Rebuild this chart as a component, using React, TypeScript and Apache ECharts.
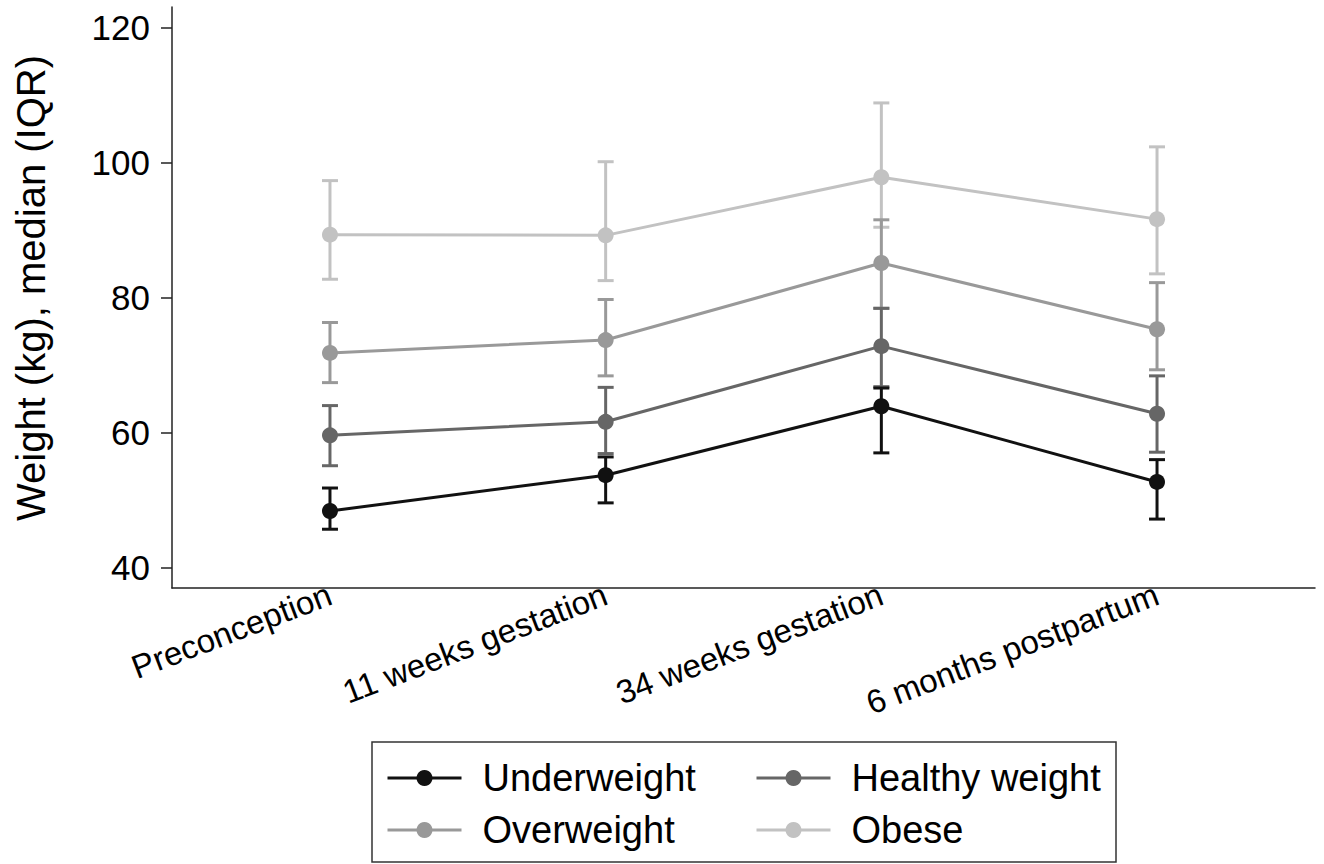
import React, { useEffect, useRef } from "react";
import * as echarts from "echarts";

const categories = ["Preconception", "11 weeks gestation", "34 weeks gestation", "6 months postpartum"];
const groupNames = ["Underweight", "Healthy weight", "Overweight", "Obese"];
const groupColors = ["#111111", "#666666", "#999999", "#c2c2c2"];

const underMedian = [48.4, 53.7, 63.9, 52.7];
const underQ1 = [45.7, 49.6, 57.0, 47.2];
const underQ3 = [51.8, 56.4, 66.6, 56.0];

const healthyMedian = [59.6, 61.6, 72.8, 62.8];
const healthyQ1 = [55.1, 56.9, 66.8, 57.1];
const healthyQ3 = [64.0, 66.7, 78.4, 68.4];

const overMedian = [71.8, 73.7, 85.1, 75.3];
const overQ1 = [67.4, 68.4, 78.4, 69.3];
const overQ3 = [76.3, 79.7, 91.5, 82.2];

const obeseMedian = [89.3, 89.2, 97.8, 91.6];
const obeseQ1 = [82.7, 82.5, 90.4, 83.5];
const obeseQ3 = [97.3, 100.1, 108.8, 102.3];

const yTicks = [40, 60, 80, 100, 120];

const FONT = "Liberation Sans, Arial, sans-serif";

export default function App() {
  const ref = useRef<HTMLDivElement>(null);
  useEffect(() => {
    if (!ref.current) return;
    const chart = echarts.init(ref.current, undefined, { renderer: "svg" });
    const medians = [underMedian, healthyMedian, overMedian, obeseMedian];
    const q1s = [underQ1, healthyQ1, overQ1, obeseQ1];
    const q3s = [underQ3, healthyQ3, overQ3, obeseQ3];

    const series: any[] = [];
    for (let g = groupNames.length - 1; g >= 0; g--) {
      const color = groupColors[g];
      series.push({
        type: "custom",
        name: groupNames[g] + " IQR",
        z: 2,
        silent: true,
        encode: { x: 0, y: [1, 2] },
        data: categories.map((_, i) => [i, q1s[g][i], q3s[g][i]]),
        renderItem: (params: any, api: any) => {
          const x = api.value(0);
          const lo = api.coord([x, api.value(1)]);
          const hi = api.coord([x, api.value(2)]);
          const w = 8;
          const style = { stroke: color, lineWidth: 3 };
          return {
            type: "group",
            children: [
              { type: "line", shape: { x1: lo[0], y1: lo[1], x2: hi[0], y2: hi[1] }, style },
              { type: "line", shape: { x1: lo[0] - w, y1: lo[1], x2: lo[0] + w, y2: lo[1] }, style },
              { type: "line", shape: { x1: hi[0] - w, y1: hi[1], x2: hi[0] + w, y2: hi[1] }, style },
            ],
          };
        },
      });
      series.push({
        type: "line",
        name: groupNames[g],
        z: 3,
        data: medians[g].map((v, i) => [i, v]),
        symbol: "circle",
        symbolSize: 16,
        showSymbol: true,
        lineStyle: { color, width: 3 },
        itemStyle: { color },
      });
    }

    const legendCommon = {
      orient: "vertical",
      itemWidth: 74,
      itemHeight: 20,
      itemGap: 10,
      selectedMode: false,
      lineStyle: { width: 3 },
      textStyle: {
        fontFamily: FONT,
        fontSize: 38,
        color: "#000",
        lineHeight: 42,
        padding: [0, 0, 0, 16],
      },
    };

    chart.setOption({
      animation: false,
      backgroundColor: "#fff",
      grid: { left: 172, right: 9, top: 7, bottom: 276, containLabel: false },
      xAxis: {
        type: "value",
        min: -0.573,
        max: 3.573,
        splitLine: { show: false },
        axisLine: { show: true, onZero: false, lineStyle: { color: "#222", width: 1.5 } },
        axisTick: { show: false },
        axisLabel: {
          customValues: [0, 1, 2, 3],
          formatter: (v: number) => categories[Math.round(v)] ?? "",
          rotate: 21,
          margin: 5,
          fontFamily: FONT,
          fontSize: 33,
          color: "#000",
        },
      },
      yAxis: {
        type: "value",
        min: 37,
        max: 123,
        splitLine: { show: false },
        axisLine: { show: true, onZero: false, lineStyle: { color: "#222", width: 1.5 } },
        axisTick: { show: true, length: 11, customValues: yTicks, lineStyle: { color: "#222", width: 1.5 } },
        axisLabel: {
          customValues: yTicks,
          margin: 22,
          fontFamily: FONT,
          fontSize: 35,
          color: "#000",
        },
      },
      legend: [
        { ...legendCommon, left: 381, top: 752, data: [groupNames[0], groupNames[2]] },
        { ...legendCommon, left: 750, top: 752, data: [groupNames[1], groupNames[3]] },
      ],
      graphic: [
        {
          type: "text",
          x: 31,
          y: 288,
          rotation: Math.PI / 2,
          style: {
            text: "Weight (kg), median (IQR)",
            fontFamily: FONT,
            fontSize: 40,
            fill: "#000",
            textAlign: "center",
            textVerticalAlign: "middle",
          },
        },
        {
          type: "rect",
          shape: { x: 372, y: 742, width: 744, height: 120 },
          style: { fill: "none", stroke: "#333", lineWidth: 1.5 },
          silent: true,
        },
      ],
      series,
    });
    return () => chart.dispose();
  }, []);
  return <div ref={ref} style={{ position: "fixed", left: 0, top: 0, width: 1324, height: 864 }} />;
}
